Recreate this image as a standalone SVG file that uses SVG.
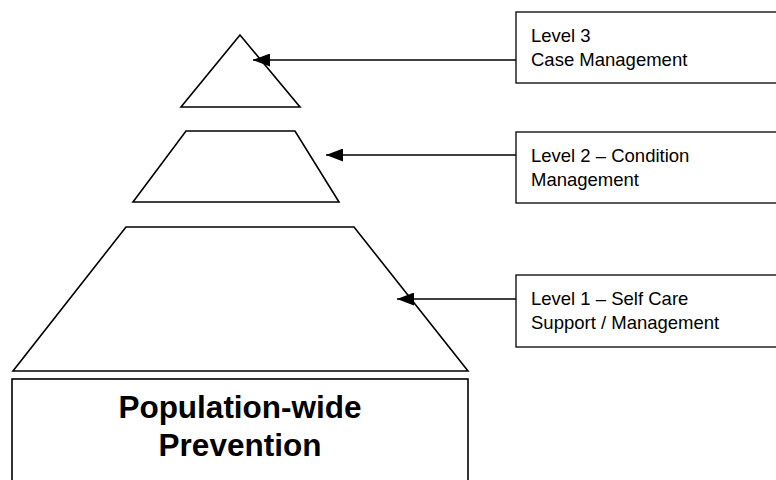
<svg xmlns="http://www.w3.org/2000/svg" width="776" height="480" viewBox="0 0 776 480">
<style>
.shape{fill:#fff;stroke:#000;stroke-width:1.6;stroke-linejoin:miter}
.box{fill:#fff;stroke:#000;stroke-width:1.3}
.lbl{font-family:"Liberation Sans",Arial,sans-serif;font-size:18.5px;fill:#000}
.big{font-family:"Liberation Sans",Arial,sans-serif;font-size:31.5px;font-weight:bold;fill:#000;text-anchor:middle}
.conn{stroke:#000;stroke-width:1.5;fill:none;marker-end:url(#arr)}
</style>
<defs>
<marker id="arr" markerUnits="userSpaceOnUse" markerWidth="17" markerHeight="13" refX="17" refY="6.5" orient="auto">
<path d="M0,0 L17,6.5 L0,13 z" fill="#000"/>
</marker>
</defs>
<rect width="776" height="480" fill="#fff"/>
<g id="level3-shape"><polygon class="shape" points="240,35 300,107 181,107"/></g>
<g id="level2-shape"><polygon class="shape" points="186,131 295,131 339,202 133,202"/></g>
<g id="level1-shape"><polygon class="shape" points="126,227 354,227 468,371 13,371"/></g>
<g id="prevention">
<rect class="shape" x="12" y="379" width="456" height="120"/>
<text class="big" x="240" y="418">Population-wide</text>
<text class="big" x="240" y="456">Prevention</text>
</g>
<g id="level3-label">
<rect class="box" x="516" y="12" width="280" height="71"/>
<text class="lbl" x="531" y="42">Level 3</text>
<text class="lbl" x="531" y="66">Case Management</text>
</g>
<g id="level2-label">
<rect class="box" x="516" y="132" width="280" height="71"/>
<text class="lbl" x="531" y="162">Level 2 – Condition</text>
<text class="lbl" x="531" y="186">Management</text>
</g>
<g id="level1-label">
<rect class="box" x="516" y="275" width="280" height="72"/>
<text class="lbl" x="531" y="305">Level 1 – Self Care</text>
<text class="lbl" x="531" y="329">Support / Management</text>
</g>
<g id="connectors">
<line class="conn" x1="516" y1="60" x2="253" y2="60"/>
<line class="conn" x1="516" y1="155" x2="326" y2="155"/>
<line class="conn" x1="516" y1="299" x2="397" y2="299"/>
</g>
</svg>
